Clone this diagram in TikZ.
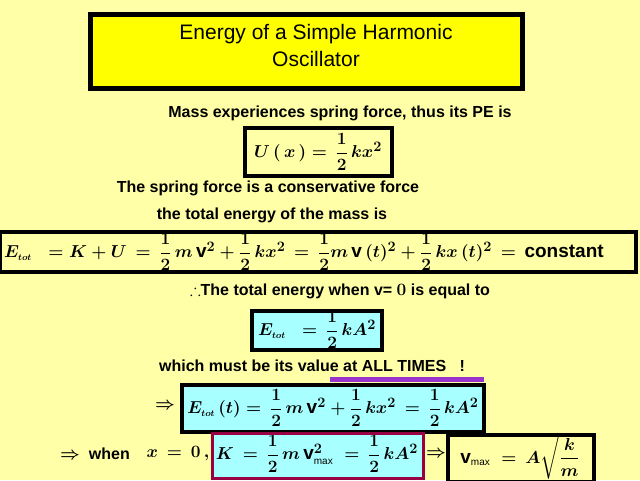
\documentclass[tikz,border=0pt]{standalone}
\usepackage{fontspec}
\setmainfont{Liberation Sans}
\usepackage{amsmath,amssymb}
\definecolor{bg}{HTML}{FFFFA8}
\definecolor{ttl}{HTML}{FFFF00}
\definecolor{cy}{HTML}{A8FFFF}
\definecolor{maroon}{HTML}{990044}
\definecolor{purp}{HTML}{9933CC}
\begin{document}
\begin{tikzpicture}[x=1pt,y=-1pt,
 txt/.style={font=\fontsize{16}{18}\selectfont\bfseries,inner sep=0},
 eq/.style={font=\fontsize{19}{21}\selectfont\boldmath,inner sep=0},
 bx/.style={draw=black,line width=4pt}]
\fill[bg] (0,0) rectangle (640,480);
\useasboundingbox (0,0) rectangle (640,480);
\draw[bx,fill=ttl,line width=5pt] (90,14) rectangle (522,88);
\node[font=\fontsize{21}{27}\selectfont,align=center] (title) at (316,45) {Energy of a Simple Harmonic\\Oscillator};
\node[txt] (t1) at (340,113) {Mass experiences spring force, thus its PE is};
\draw[bx] (245,128) rectangle (392,176);
\node[eq] (u) at (318,152) {$U\,(\,x\,) =\, \dfrac{1}{2}\,kx^{2}$};
\node[txt] (t2) at (268,188) {The spring force is a conservative force};
\node[txt] (t3) at (272,215) {the total energy of the mass is};
\draw[bx] (0,232) rectangle (636,272);
\node[eq,anchor=west] (etot) at (4,252) {$E_{\scriptscriptstyle tot}\;\; = K + U \,=\, \dfrac12\,m\,\mathrm{v}^2 + \dfrac12\,kx^2 \,=\, \dfrac12 m\,\mathrm{v}\,(t)^2 + \dfrac12\,kx\,(t)^2 \,=\,$ \textbf{constant}};
\node[txt] (t4) at (340,291) {$\therefore$The total energy when v= $\boldsymbol{0}$ is equal to};
\draw[bx,fill=cy] (252,311) rectangle (382,350);
\node[eq] (e2) at (317,330) {$E_{\scriptscriptstyle tot}\;\; = \,\dfrac12\,kA^2$};
\node[txt] (t5) at (312,366) {which must be its value at ALL TIMES \ \ !};
\draw[purp,line width=5pt] (330,379) -- (484,379);
\node[txt] (ar1) at (165,406) {$\boldsymbol{\Rightarrow}$};
\draw[bx,fill=cy] (182,385) rectangle (484,432);
\node[eq] (e3) at (333,408) {$E_{\scriptscriptstyle tot}\,(t) = \,\dfrac12\,m\,\mathrm{v}^2 + \dfrac12\,kx^2 \,=\, \dfrac12\,kA^2$};
\node[txt] (ar2) at (95,454) {$\boldsymbol{\Rightarrow}$\ \ when};
\node[eq] (x0) at (178,454) {$x\,=\,0\,,$};
\draw[draw=maroon,line width=3pt,fill=cy] (212,433) rectangle (423,478);
\node[eq] (k) at (317,454) {$K \,=\, \dfrac12\,m\,\mathrm{v}^{2}_{\text{\normalfont\fontsize{10}{10}\selectfont max}} \;=\, \dfrac12\,kA^2$};
\node[txt] (ar3) at (436,454) {$\boldsymbol{\Rightarrow}$};
\draw[bx,fill=bg] (448,435) rectangle (594,482);
\node[eq] (v) at (520,456) {$\mathrm{v}_{\text{\normalfont\fontsize{10}{10}\selectfont max}}\; =\, A\sqrt{\dfrac{k}{m}}$};
\end{tikzpicture}
\end{document}
